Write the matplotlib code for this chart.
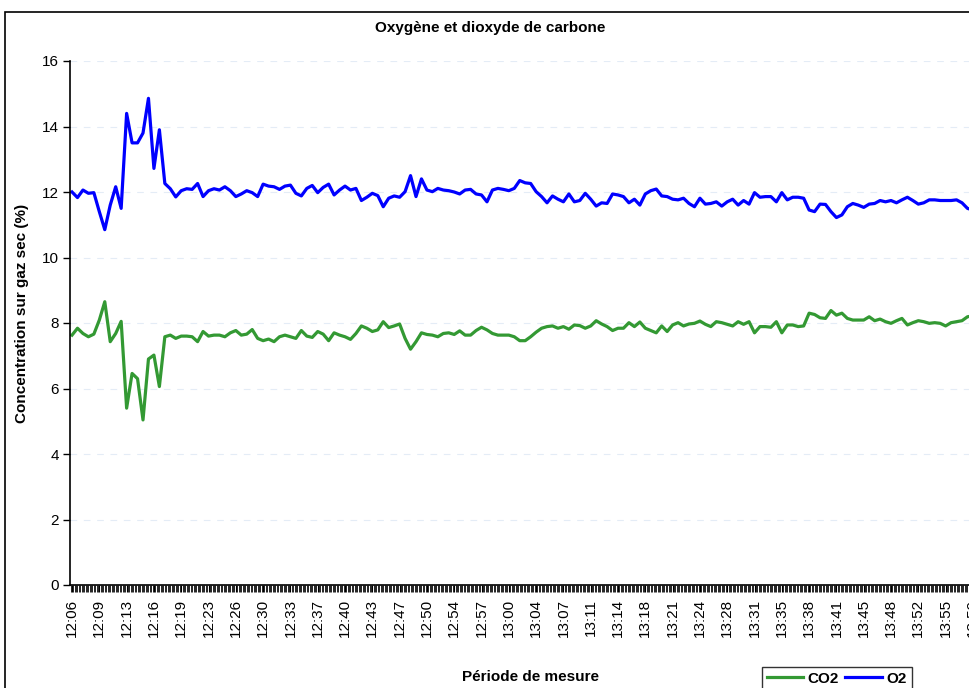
import numpy as np
import matplotlib
matplotlib.use("Agg")
import matplotlib.pyplot as plt
from matplotlib.ticker import MultipleLocator
from matplotlib.patches import Rectangle

plt.rcParams['font.family'] = ['Liberation Sans', 'DejaVu Sans']

# one reading every ~41 s, a label every 5 readings
o2 = [12.0, 11.83, 12.06, 11.96, 11.98, 11.4, 10.85, 11.6, 12.16, 11.5,
      14.4, 13.5, 13.5, 13.8, 14.86, 12.72, 13.9, 12.26, 12.1, 11.85,
      12.04, 12.1, 12.08, 12.26, 11.86, 12.04, 12.1, 12.06, 12.16, 12.04,
      11.86, 11.94, 12.04, 11.98, 11.86, 12.24, 12.18, 12.16, 12.08, 12.18,
      12.21, 11.96, 11.88, 12.11, 12.2, 11.98, 12.14, 12.24, 11.91, 12.06,
      12.18, 12.06, 12.11, 11.74, 11.84, 11.96, 11.89, 11.55, 11.81, 11.88,
      11.84, 12.01, 12.5, 11.86, 12.4, 12.06, 12.01, 12.11, 12.06, 12.04,
      12.0, 11.94, 12.06, 12.08, 11.94, 11.91, 11.7, 12.06, 12.11, 12.08,
      12.04, 12.11, 12.35, 12.28, 12.26, 12.01, 11.86, 11.67, 11.88, 11.78,
      11.7, 11.94, 11.7, 11.74, 11.96, 11.78, 11.57, 11.67, 11.65, 11.94,
      11.91, 11.86, 11.67, 11.78, 11.6, 11.94, 12.04, 12.09, 11.88, 11.86,
      11.78, 11.76, 11.81, 11.65, 11.55, 11.81, 11.63, 11.65, 11.7, 11.57,
      11.7, 11.78, 11.6, 11.74, 11.63, 11.98, 11.84, 11.86, 11.86, 11.7,
      11.98, 11.76, 11.84, 11.84, 11.81, 11.45, 11.4, 11.63, 11.62, 11.4,
      11.22, 11.3, 11.55, 11.65, 11.6, 11.53, 11.63, 11.65, 11.74, 11.7,
      11.74, 11.67, 11.76, 11.84, 11.74, 11.63, 11.67, 11.76, 11.76, 11.74,
      11.74, 11.74, 11.76, 11.67, 11.5, 11.45]

co2 = [7.63, 7.84, 7.68, 7.58, 7.66, 8.09, 8.65, 7.43, 7.68, 8.05,
       5.4, 6.46, 6.3, 5.04, 6.9, 7.02, 6.06, 7.58, 7.63, 7.53,
       7.6, 7.6, 7.58, 7.43, 7.74, 7.6, 7.63, 7.63, 7.58, 7.7,
       7.77, 7.63, 7.66, 7.8, 7.53, 7.46, 7.51, 7.43, 7.58, 7.63,
       7.58, 7.53, 7.77, 7.6, 7.56, 7.74, 7.66, 7.46, 7.7, 7.63,
       7.58, 7.5, 7.68, 7.91, 7.84, 7.74, 7.79, 8.04, 7.86, 7.91,
       7.97, 7.53, 7.2, 7.43, 7.7, 7.65, 7.63, 7.58, 7.68, 7.7,
       7.65, 7.76, 7.63, 7.63, 7.77, 7.87, 7.79, 7.68, 7.63, 7.63,
       7.63, 7.58, 7.46, 7.46, 7.58, 7.72, 7.84, 7.89, 7.91, 7.84,
       7.89, 7.81, 7.94, 7.92, 7.84, 7.91, 8.07, 7.97, 7.89, 7.77,
       7.84, 7.84, 8.01, 7.89, 8.03, 7.84, 7.77, 7.7, 7.91, 7.74,
       7.94, 8.01, 7.91, 7.97, 7.99, 8.06, 7.96, 7.89, 8.04, 8.01,
       7.96, 7.91, 8.04, 7.96, 8.04, 7.7, 7.89, 7.89, 7.87, 8.04,
       7.7, 7.94, 7.94, 7.89, 7.91, 8.3, 8.26, 8.16, 8.14, 8.38,
       8.24, 8.3, 8.14, 8.09, 8.09, 8.09, 8.19, 8.07, 8.12, 8.04,
       7.99, 8.07, 8.14, 7.94, 8.01, 8.07, 8.04, 7.99, 8.01, 7.99,
       7.91, 8.01, 8.04, 8.07, 8.19, 8.22]

time_labels = ['12:06', '12:09', '12:13', '12:16', '12:19', '12:23', '12:26',
               '12:30', '12:33', '12:37', '12:40', '12:43', '12:47', '12:50',
               '12:54', '12:57', '13:00', '13:04', '13:07', '13:11', '13:14',
               '13:18', '13:21', '13:24', '13:28', '13:31', '13:35', '13:38',
               '13:41', '13:45', '13:48', '13:52', '13:55', '13:59']
label_step = 5

W, H = 969, 688
fig = plt.figure(figsize=(W / 100, H / 100), dpi=100)

# plot area: left edge at 70px, runs past the right border of the picture
x_left, x_right = -0.37, 165.5
ax_l, ax_b, ax_t = 70, 585, 61
ax_w = (x_right - x_left) * 5.46
ax = fig.add_axes([ax_l / W, 1 - ax_b / H, ax_w / W, (ax_b - ax_t) / H])

x = np.arange(len(o2))
ax.plot(x, co2, color='#339933', lw=2.3, solid_joinstyle='round', label='CO2')
ax.plot(x, o2, color='#0000ff', lw=2.3, solid_joinstyle='round', label='O2')

ax.set_xlim(x_left, x_right)
ax.set_ylim(0, 16)
ax.set_yticks(np.arange(0, 17, 2))
ax.yaxis.grid(True, color='#e4ecf6', linestyle=(0, (6, 6)), lw=0.8)
ax.set_axisbelow(True)

ax.set_xticks(np.arange(len(time_labels)) * label_step)
ax.set_xticklabels(time_labels, rotation=90)
ax.xaxis.set_minor_locator(MultipleLocator(0.25))
ax.tick_params(axis='x', which='major', length=5, width=0.8, labelsize=11, pad=5)
ax.tick_params(axis='x', which='minor', length=5, width=0.6)
ax.tick_params(axis='y', length=5, width=1, labelsize=11, pad=3)

for s in ['top', 'right']:
    ax.spines[s].set_visible(False)
ax.spines['left'].set_linewidth(1.2)
ax.spines['bottom'].set_linewidth(1.2)

fig.text(490 / W, 1 - 28 / H, 'Oxygène et dioxyde de carbone', ha='center',
         va='center', fontsize=11, fontweight='bold')
fig.text(22 / W, 1 - 313 / H, 'Concentration sur gaz sec (%)', ha='center',
         va='center', rotation=90, fontsize=11, fontweight='bold')
fig.text(530 / W, 1 - 677 / H, 'Période de mesure', ha='center',
         va='center', fontsize=11, fontweight='bold')

# chart area border (cut by the picture on the right and bottom)
fig.patches.append(Rectangle((5 / W, -0.05), 1.0, 1 - 12 / H + 0.05,
                             transform=fig.transFigure, fill=False,
                             edgecolor='black', lw=1.2))

leg = fig.legend(loc='upper left', bbox_to_anchor=(762 / W, 1 - 667 / H),
                 ncol=2, frameon=True, fancybox=False, edgecolor='black',
                 prop={'weight': 'bold', 'size': 11}, handlelength=2.4,
                 columnspacing=0.4, handletextpad=0.3, borderpad=0.3,
                 borderaxespad=0)
leg.get_frame().set_linewidth(1.0)

fig.savefig('out.png', dpi=100)
